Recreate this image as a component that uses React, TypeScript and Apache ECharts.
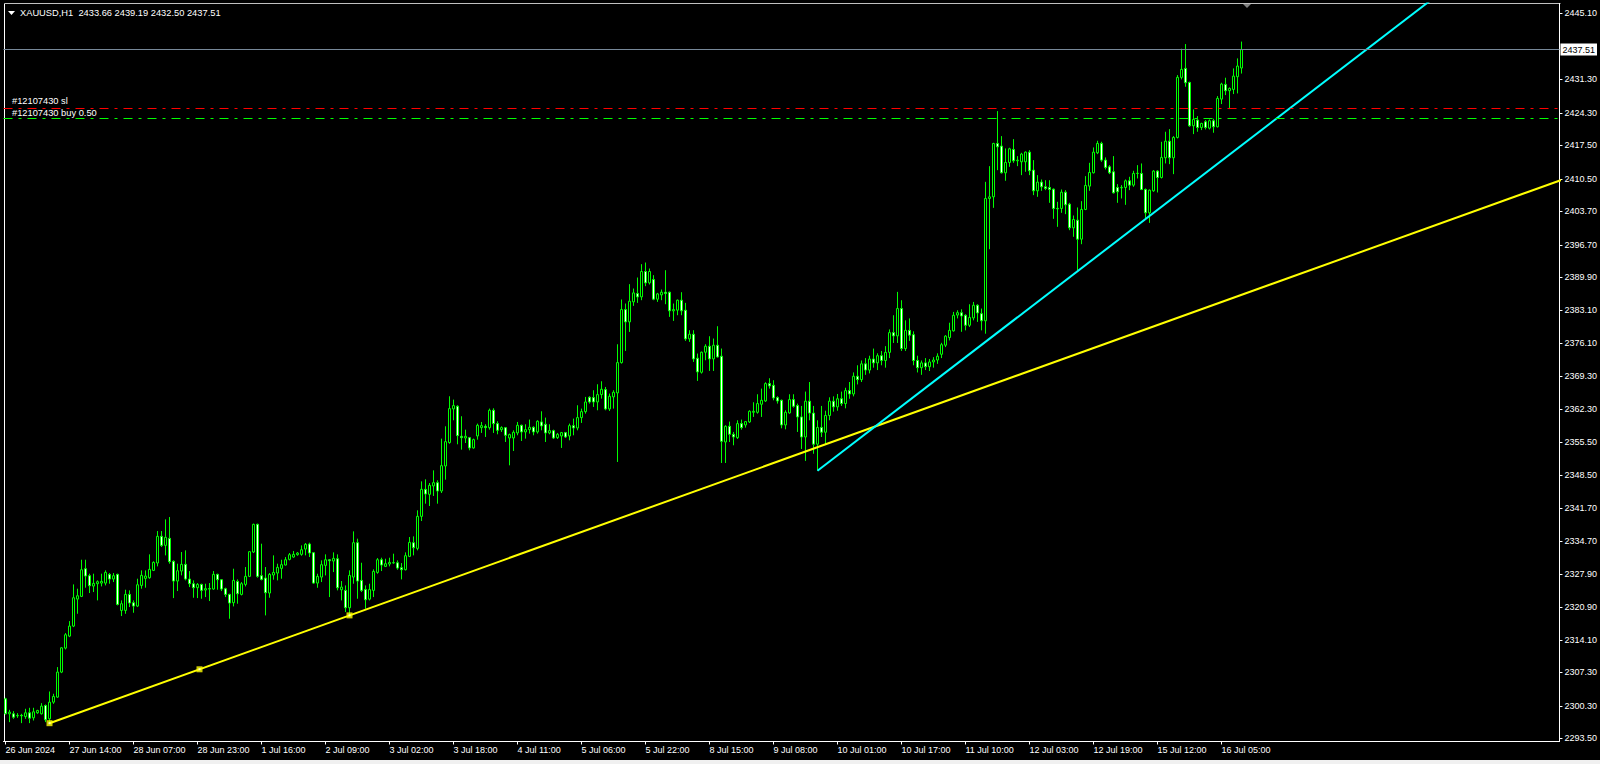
import { useEffect, useRef } from "react";
import * as echarts from "echarts";

const FONT = "'Liberation Sans', Arial, sans-serif";

const symbolName = "XAUUSD,H1";
const lastOHLC = [2433.66, 2439.19, 2432.5, 2437.51];
const slLabel = "#12107430 sl";
const buyLabel = "#12107430 buy 0.50";

const xTickLabels = [
  "26 Jun 2024", "27 Jun 14:00", "28 Jun 07:00", "28 Jun 23:00", "1 Jul 16:00",
  "2 Jul 09:00", "3 Jul 02:00", "3 Jul 18:00", "4 Jul 11:00", "5 Jul 06:00",
  "5 Jul 22:00", "8 Jul 15:00", "9 Jul 08:00", "10 Jul 01:00", "10 Jul 17:00",
  "11 Jul 10:00", "12 Jul 03:00", "12 Jul 19:00", "15 Jul 12:00", "16 Jul 05:00",
];
const barsPerTick = 16;
const slotCount = 389;

const yTickValues = [
  2293.5, 2300.3, 2307.3, 2314.1, 2320.9, 2327.9, 2334.7, 2341.7, 2348.5, 2355.5,
  2362.3, 2369.3, 2376.1, 2383.1, 2389.9, 2396.7, 2403.7, 2410.5, 2417.5, 2424.3,
  2431.3, 2445.1,
];
const yMin = 2292.83;
const yMax = 2447.15;

const bidPrice = 2437.51;
const slPrice = 2425.23;
const entryPrice = 2423.14;

// trend line anchors: [bar index, price]
const yellowAnchors = [[11, 2296.66], [86, 2319.2]];
const cyanAnchors = [[203, 2349.45], [336, 2434.8]];

// bars: [open, high, low, close]
const barsA = [
  [2301.76, 2301.97, 2298.48, 2298.62], [2298.62, 2299.46, 2296.88, 2298.97], [2298.62, 2299.18, 2297.57, 2297.92],
  [2298.2, 2298.76, 2297.78, 2298.3], [2298.3, 2298.62, 2296.67, 2298.2], [2298.06, 2299.67, 2297.57, 2298.83],
  [2298.83, 2299.88, 2296.67, 2297.71], [2297.78, 2299.88, 2297.22, 2299.04], [2298.83, 2299.46, 2298.62, 2299.32],
  [2298.62, 2300.85, 2298.48, 2300.23], [2300.36, 2300.57, 2296.88, 2297.36], [2297.57, 2303.29, 2296.67, 2301.06],
  [2301.06, 2302.81, 2300.71, 2302.25], [2302.11, 2308.39, 2301.97, 2307.34], [2307.34, 2312.57, 2307.13, 2312.43],
  [2312.36, 2315.5, 2312.08, 2315.15], [2314.87, 2318.01, 2314.66, 2316.96], [2316.96, 2325.68, 2316.75, 2322.89],
  [2322.61, 2324.78, 2319.54, 2323.31], [2323.17, 2330.84, 2323.03, 2328.75], [2328.96, 2330.84, 2324.99, 2327.43],
  [2327.5, 2327.92, 2323.87, 2325.4], [2325.33, 2327.92, 2324.08, 2325.89], [2325.82, 2326.52, 2322.34, 2326.24],
  [2325.96, 2327.92, 2325.26, 2326.31], [2325.96, 2328.61, 2325.47, 2328.19], [2327.78, 2328.05, 2325.82, 2326.8],
  [2326.8, 2328.05, 2326.17, 2327.5], [2327.78, 2327.92, 2321.29, 2321.5], [2320.24, 2322.34, 2319.06, 2321.64],
  [2320.24, 2324.57, 2319.54, 2323.59], [2323.59, 2324.43, 2320.94, 2321.78], [2321.85, 2322.34, 2319.75, 2321.15],
  [2321.15, 2326.87, 2320.94, 2325.61], [2325.47, 2328.61, 2324.78, 2327.57], [2326.94, 2328.61, 2324.99, 2327.43],
  [2327.08, 2331.96, 2326.87, 2328.82], [2328.61, 2330.5, 2328.47, 2330.29], [2330.15, 2336.84, 2329.45, 2335.73],
  [2335.73, 2336.84, 2333.5, 2333.84], [2333.84, 2339.28, 2331.75, 2335.52], [2335.31, 2339.77, 2330.01, 2330.43],
  [2330.5, 2330.71, 2322.82, 2326.38], [2326.38, 2330.01, 2324.29, 2328.54], [2328.47, 2332.45, 2327.57, 2329.87],
  [2329.87, 2332.8, 2326.52, 2326.8], [2326.8, 2328.47, 2325.12, 2325.82], [2325.82, 2326.52, 2322.89, 2324.99],
  [2324.99, 2325.96, 2322.82, 2325.68], [2325.68, 2325.82, 2322.68, 2324.43], [2324.5, 2325.82, 2323.03, 2324.8],
  [2324.8, 2325.96, 2322.2, 2324.7], [2324.71, 2328.47, 2324.57, 2327.78], [2327.78, 2327.92, 2324.57, 2326.66],
  [2326.66, 2326.8, 2324.29, 2324.71], [2324.78, 2324.99, 2323.03, 2323.59], [2323.59, 2323.73, 2318.5, 2321.78],
  [2321.85, 2328.96, 2321.08, 2326.52], [2326.31, 2326.73, 2321.64, 2323.73], [2323.59, 2326.17, 2323.38, 2325.82],
  [2325.68, 2329.31, 2325.26, 2327.36], [2327.36, 2332.66, 2327.22, 2332.52], [2332.45, 2338.38, 2332.24, 2338.24],
  [2338.24, 2338.38, 2327.08, 2327.36], [2327.5, 2334.19, 2326.52, 2326.73], [2327.01, 2329.31, 2319.2, 2323.94],
  [2323.87, 2328.05, 2322.89, 2327.78], [2327.64, 2331.75, 2326.66, 2328.19], [2328.05, 2330.01, 2326.52, 2329.24],
  [2329.03, 2330.84, 2326.87, 2329.8], [2329.73, 2331.4, 2329.66, 2330.84], [2330.91, 2332.24, 2330.7, 2331.89],
  [2331.4, 2332.66, 2331.26, 2331.96],
];

const barsB = [
  [2331.89, 2332.45, 2331.68, 2332.24], [2331.96, 2333.84, 2331.68, 2332.93], [2333.07, 2334.33, 2331.75, 2334.05],
  [2334.12, 2334.4, 2331.4, 2332.24], [2332.31, 2332.45, 2325.82, 2325.96], [2325.96, 2327.91, 2324.98, 2327.35],
  [2327.21, 2330.7, 2326.17, 2329.8], [2329.66, 2331.96, 2327.56, 2330.84], [2330.84, 2330.98, 2323.03, 2330.63],
  [2330.56, 2332.38, 2328.26, 2331.12], [2331.05, 2331.96, 2324.43, 2324.98], [2324.56, 2326.38, 2322.33, 2325.12],
  [2324.43, 2325.47, 2319.89, 2320.8], [2320.8, 2328.61, 2319.32, 2327.56], [2327.21, 2336.77, 2325.82, 2334.4],
  [2334.4, 2335.24, 2322.68, 2326.38], [2326.52, 2330.21, 2324.08, 2324.43], [2324.63, 2325.47, 2320.59, 2322.47],
  [2322.6, 2325.82, 2322.33, 2324.6], [2324.43, 2328.82, 2323.03, 2328.4], [2328.19, 2331.19, 2327.91, 2330.84],
  [2330.84, 2331.26, 2328.47, 2329.73], [2329.45, 2331.05, 2329.31, 2330.01], [2329.94, 2331.26, 2329.45, 2330.28],
  [2330.18, 2332.1, 2330.0, 2330.24], [2330.21, 2330.7, 2328.75, 2329.1], [2329.17, 2330.14, 2326.73, 2328.75],
  [2328.75, 2332.38, 2328.61, 2331.68], [2331.54, 2335.59, 2331.4, 2334.47], [2334.4, 2335.72, 2331.75, 2333.35],
  [2333.21, 2341.17, 2332.8, 2339.91], [2339.91, 2347.23, 2338.93, 2345.56], [2345.56, 2347.65, 2342.56, 2344.58],
  [2344.51, 2346.88, 2342.07, 2346.4], [2346.26, 2349.53, 2344.17, 2346.95], [2346.95, 2347.44, 2342.56, 2345.21],
  [2345.21, 2356.16, 2344.79, 2350.51], [2350.44, 2358.74, 2347.58, 2355.53], [2355.32, 2365.02, 2355.11, 2362.44],
  [2362.37, 2364.32, 2360.0, 2363.07], [2362.93, 2363.14, 2354.98, 2356.79], [2356.65, 2360.84, 2353.86, 2356.37],
  [2356.3, 2358.04, 2355.25, 2356.65], [2356.37, 2356.51, 2353.72, 2354.21], [2354.21, 2356.16, 2354.07, 2355.95],
  [2356.72, 2359.3, 2355.95, 2358.95], [2358.46, 2359.65, 2357.35, 2358.88], [2358.74, 2359.16, 2356.51, 2358.46],
  [2358.46, 2362.44, 2358.04, 2362.09], [2362.09, 2362.51, 2357.35, 2359.3], [2359.3, 2359.79, 2357.07, 2357.9],
  [2358.04, 2358.74, 2357.56, 2358.46], [2358.46, 2358.6, 2355.46, 2356.86], [2356.3, 2357.21, 2350.58, 2357.0],
  [2356.3, 2357.9, 2353.58, 2357.49], [2357.35, 2359.65, 2356.86, 2358.95], [2358.95, 2359.09, 2355.67, 2357.56],
  [2357.56, 2359.16, 2356.16, 2358.04], [2358.04, 2360.14, 2357.21, 2358.53], [2358.53, 2358.74, 2356.86, 2357.56],
  [2357.56, 2360.0, 2357.21, 2359.79], [2359.65, 2361.88, 2357.9, 2358.81],
];

const barsC = [
  [2359.16, 2360.56, 2355.46, 2357.35], [2357.35, 2359.16, 2357.07, 2357.83], [2357.83, 2358.04, 2356.09, 2356.3],
  [2356.37, 2357.35, 2356.09, 2357.07], [2356.72, 2357.56, 2354.21, 2357.42], [2357.42, 2357.56, 2356.3, 2356.51],
  [2356.72, 2359.3, 2355.81, 2358.88], [2358.88, 2360.35, 2356.86, 2358.39], [2358.39, 2363.14, 2357.9, 2360.56],
  [2360.56, 2362.44, 2359.44, 2361.81], [2361.81, 2364.88, 2361.39, 2363.83], [2364.81, 2365.02, 2363.49, 2363.83],
  [2364.74, 2366.28, 2362.79, 2363.83], [2363.83, 2367.53, 2362.09, 2365.37], [2365.37, 2368.16, 2364.53, 2366.48],
  [2366.41, 2366.97, 2362.09, 2362.37], [2362.37, 2365.58, 2361.95, 2365.02], [2364.88, 2366.28, 2362.44, 2365.86],
  [2365.72, 2375.9, 2351.28, 2372.06], [2372.06, 2385.25, 2371.85, 2383.15], [2383.15, 2384.41, 2374.5, 2380.57],
  [2380.57, 2388.46, 2378.48, 2384.9], [2384.76, 2387.55, 2383.92, 2386.64], [2386.5, 2389.85, 2384.55, 2385.8],
  [2385.8, 2392.64, 2385.11, 2391.11], [2391.11, 2392.99, 2388.04, 2388.73], [2388.73, 2391.73, 2388.39, 2391.11],
  [2389.43, 2390.34, 2385.11, 2385.32], [2385.32, 2386.64, 2384.76, 2386.43], [2386.22, 2387.34, 2385.11, 2386.78],
  [2386.78, 2391.38, 2384.27, 2386.5], [2386.78, 2386.92, 2381.62, 2382.88], [2382.88, 2384.41, 2380.78, 2383.15],
  [2383.02, 2385.25, 2381.97, 2385.11], [2385.11, 2386.78, 2381.97, 2382.88], [2383.02, 2384.55, 2376.6, 2377.02],
  [2377.02, 2378.83, 2376.39, 2377.99], [2377.99, 2378.83, 2372.2, 2372.83], [2372.97, 2373.95, 2368.23, 2370.11],
  [2370.04, 2374.37, 2369.76, 2374.23], [2374.23, 2375.9, 2372.55, 2375.48], [2375.48, 2377.57, 2370.32, 2372.83],
  [2372.83, 2377.09, 2370.32, 2375.69], [2375.69, 2379.67, 2373.11, 2373.25], [2373.39, 2375.0, 2351.07, 2355.6],
  [2355.46, 2358.95, 2351.07, 2358.74], [2358.74, 2359.72, 2355.46, 2357.07], [2357.07, 2357.56, 2354.77, 2356.51],
  [2356.37, 2360.0, 2356.09, 2359.3], [2359.3, 2360.14, 2358.04, 2358.46], [2359.02, 2359.86, 2358.46, 2359.72],
  [2359.65, 2362.09, 2359.44, 2361.88], [2361.67, 2363.77, 2360.7, 2361.88], [2361.67, 2365.44, 2361.39, 2363.49],
  [2363.35, 2366.62, 2360.7, 2364.18], [2364.04, 2367.95, 2363.83, 2367.67], [2367.67, 2368.79, 2366.62, 2367.18],
  [2367.32, 2368.37, 2364.18, 2364.67], [2364.74, 2365.02, 2363.49, 2364.04], [2364.18, 2364.32, 2358.32, 2359.02],
  [2359.02, 2362.09, 2358.11, 2361.67], [2361.53, 2365.44, 2361.39, 2364.32], [2364.32, 2365.44, 2362.65, 2362.93],
  [2363.07, 2363.49, 2357.56, 2360.7],
];

const barsD = [
  [2360.7, 2363.0, 2354.0, 2356.5], [2356.5, 2366.0, 2351.5, 2364.0], [2364.0, 2368.0, 2360.0, 2361.5],
  [2361.5, 2363.0, 2353.0, 2355.0], [2355.0, 2360.0, 2349.45, 2358.5], [2358.5, 2363.0, 2356.5, 2357.5],
  [2357.5, 2362.0, 2355.0, 2361.0], [2361.0, 2364.8, 2360.0, 2364.0], [2364.0, 2365.0, 2361.8, 2362.8],
  [2362.8, 2365.5, 2362.0, 2364.5], [2364.5, 2366.0, 2363.0, 2363.5], [2363.5, 2366.8, 2362.5, 2366.2],
  [2366.2, 2368.0, 2364.5, 2365.5], [2365.5, 2370.0, 2365.0, 2369.2], [2369.2, 2371.5, 2367.5, 2368.5],
  [2368.5, 2372.5, 2368.0, 2371.8], [2371.8, 2373.0, 2369.5, 2370.5], [2370.5, 2373.5, 2369.8, 2372.8],
  [2372.8, 2374.99, 2371.0, 2372.0], [2372.0, 2374.0, 2370.5, 2373.5], [2373.5, 2374.5, 2371.5, 2372.5],
  [2372.5, 2375.5, 2371.0, 2374.2], [2374.2, 2379.0, 2373.0, 2378.33], [2378.33, 2381.96, 2376.17, 2377.64],
  [2377.64, 2386.85, 2376.17, 2383.36], [2383.36, 2385.1, 2374.5, 2374.99], [2374.99, 2380.9, 2374.5, 2378.8],
  [2378.8, 2381.3, 2376.6, 2377.8], [2377.9, 2378.6, 2371.5, 2372.5], [2372.5, 2373.5, 2370.0, 2371.0],
  [2371.0, 2372.5, 2369.5, 2372.0], [2372.0, 2373.0, 2370.5, 2371.2], [2371.2, 2372.8, 2370.3, 2372.2],
  [2372.2, 2373.2, 2371.0, 2372.6], [2372.6, 2374.0, 2371.8, 2373.4], [2373.8, 2376.2, 2373.0, 2375.8],
  [2375.7, 2377.8, 2375.3, 2377.6], [2377.3, 2380.4, 2376.7, 2378.8], [2378.7, 2382.66, 2378.55, 2381.96],
  [2382.0, 2383.0, 2381.3, 2382.5], [2382.5, 2383.2, 2378.5, 2381.8], [2381.96, 2382.17, 2378.8, 2379.87],
  [2379.87, 2384.26, 2379.5, 2381.5], [2381.4, 2384.75, 2380.9, 2384.05], [2384.05, 2384.26, 2380.57, 2382.45],
  [2382.3, 2383.36, 2378.8, 2380.8], [2380.8, 2409.86, 2378.1, 2406.37], [2406.37, 2413.14, 2395.77, 2406.72],
  [2406.72, 2418.02, 2404.42, 2417.88],
];

const barsE = [
  [2417.88, 2424.65, 2412.3, 2417.18], [2417.33, 2419.42, 2411.6, 2411.75], [2411.75, 2416.84, 2410.08, 2413.91],
  [2413.91, 2416.98, 2413.0, 2416.77], [2416.63, 2418.79, 2413.84, 2414.26], [2414.26, 2415.24, 2413.14, 2414.4],
  [2414.05, 2415.93, 2411.26, 2415.66], [2414.05, 2416.21, 2411.96, 2416.07], [2416.07, 2416.49, 2411.26, 2412.17],
  [2412.31, 2414.4, 2407.08, 2407.98], [2407.98, 2411.26, 2406.73, 2409.8], [2409.8, 2410.35, 2407.98, 2408.82],
  [2408.82, 2410.2, 2408.12, 2408.47], [2408.68, 2410.2, 2405.47, 2408.26], [2408.33, 2408.47, 2402.12, 2404.29],
  [2404.3, 2405.68, 2400.45, 2404.2], [2404.29, 2408.26, 2403.38, 2407.7], [2407.7, 2408.12, 2403.1, 2405.05],
  [2405.19, 2405.47, 2399.75, 2400.24], [2400.24, 2402.82, 2398.36, 2401.98], [2401.84, 2404.5, 2391.38, 2397.87],
  [2397.87, 2405.82, 2396.82, 2404.08], [2404.08, 2411.05, 2403.94, 2409.1], [2408.96, 2413.84, 2407.98, 2411.82],
  [2411.75, 2417.05, 2411.61, 2416.07], [2415.93, 2418.45, 2415.66, 2417.89], [2417.89, 2418.24, 2414.05, 2414.4],
  [2414.4, 2414.96, 2412.45, 2412.87], [2413.0, 2413.35, 2411.47, 2411.75], [2411.96, 2415.24, 2407.42, 2407.56],
  [2408.68, 2409.38, 2405.47, 2407.77], [2408.6, 2409.17, 2406.38, 2408.7], [2408.68, 2410.35, 2405.05, 2410.07],
  [2410.07, 2410.91, 2408.12, 2409.17], [2409.17, 2412.17, 2408.82, 2411.61], [2411.6, 2413.35, 2410.56, 2411.65],
  [2411.61, 2413.7, 2408.12, 2408.26], [2408.26, 2408.47, 2402.19, 2403.38], [2403.38, 2408.26, 2401.28, 2408.12],
  [2407.98, 2412.3, 2407.77, 2412.1], [2412.1, 2412.3, 2407.63, 2410.77], [2410.77, 2418.23, 2410.56, 2414.96],
  [2414.89, 2420.33, 2413.7, 2418.37], [2418.37, 2420.88, 2413.56, 2414.89], [2414.89, 2419.42, 2411.47, 2419.14],
  [2419.14, 2432.18, 2418.93, 2431.7], [2431.7, 2437.69, 2431.28, 2433.37], [2433.58, 2438.67, 2429.74, 2430.58],
  [2430.65, 2430.79, 2421.37, 2421.58], [2421.58, 2425.0, 2419.84, 2422.91], [2422.77, 2423.6, 2420.33, 2421.23],
  [2421.23, 2422.21, 2420.68, 2422.07], [2422.42, 2422.77, 2420.81, 2421.23], [2421.09, 2422.91, 2420.81, 2422.63],
  [2422.63, 2423.05, 2420.12, 2421.37], [2421.37, 2427.79, 2421.23, 2427.3], [2427.16, 2430.58, 2426.12, 2430.3],
  [2430.23, 2431.63, 2428.0, 2428.91], [2428.91, 2429.6, 2425.07, 2429.39], [2429.18, 2433.58, 2428.21, 2431.97],
  [2431.84, 2435.67, 2428.35, 2434.07], [2433.66, 2439.19, 2432.5, 2437.51],
];

const allBars = [...barsA, ...barsB, ...barsC, ...barsD, ...barsE];

const isTick = (i: number) => i % barsPerTick === 0 && i / barsPerTick < xTickLabels.length;
const categories = Array.from({ length: slotCount }, (_, i) =>
  isTick(i) ? xTickLabels[i / barsPerTick] : String(i)
);

function rayPoint(a: number[][], x: number) {
  const [p, q] = a;
  return [x, p[1] + ((q[1] - p[1]) * (x - p[0])) / (q[0] - p[0])];
}

export default function App() {
  const ref = useRef<HTMLDivElement>(null);
  useEffect(() => {
    if (!ref.current) return;
    const chart = echarts.init(ref.current, undefined, { renderer: "svg" });
    const candleData = allBars.map(([o, h, l, c]) => [o, c, l, h]);
    const yellowMid = rayPoint(yellowAnchors, (yellowAnchors[0][0] + yellowAnchors[1][0]) / 2);
    const yellowSquares = [yellowAnchors[0], yellowMid, yellowAnchors[1]];
    const txt = (extra: any) => ({ fill: "#fff", font: `9.3px ${FONT}`, verticalAlign: "middle", ...extra });

    chart.setOption({
      animation: false,
      backgroundColor: "#000",
      grid: { left: 3.5, right: 39.5, top: 3.5, bottom: 22.5, containLabel: false },
      xAxis: [
        {
          type: "category",
          data: categories,
          boundaryGap: true,
          axisLine: { show: true, lineStyle: { color: "#fff", width: 1 } },
          axisTick: {
            show: true,
            alignWithLabel: true,
            length: 3,
            interval: (i: number) => isTick(i),
            lineStyle: { color: "#fff" },
          },
          axisLabel: {
            show: true,
            interval: (i: number) => isTick(i),
            formatter: (v: string) => (xTickLabels.includes(v) ? v : ""),
            color: "#fff",
            fontSize: 9,
            fontFamily: FONT,
            align: "left",
            margin: 4,
          },
          splitLine: { show: false },
        },
        { type: "value", min: -0.5, max: slotCount - 0.5, show: false },
      ],
      yAxis: {
        type: "value",
        position: "right",
        min: yMin,
        max: yMax,
        axisLine: { show: true, onZero: false, lineStyle: { color: "#fff" } },
        axisTick: { show: true, length: 3, customValues: yTickValues, lineStyle: { color: "#fff" } },
        axisLabel: {
          show: true,
          customValues: yTickValues,
          formatter: (v: number) => v.toFixed(2),
          color: "#fff",
          fontSize: 9,
          fontFamily: FONT,
          margin: 5,
          align: "left",
        },
        splitLine: { show: false },
      },
      series: [
        {
          type: "candlestick",
          xAxisIndex: 0,
          yAxisIndex: 0,
          data: candleData,
          barWidth: 2,
          itemStyle: {
            color: "#000",
            color0: "#fff",
            borderColor: "#00ff00",
            borderColor0: "#00ff00",
            borderColorDoji: "#00ff00",
            borderWidth: 1,
          },
          z: 2,
          markLine: {
            silent: true,
            symbol: ["none", "none"],
            animation: false,
            data: [
              {
                yAxis: bidPrice,
                lineStyle: { color: "#778899", width: 1, type: "solid" },
                label: {
                  show: true,
                  position: "end",
                  formatter: bidPrice.toFixed(2),
                  color: "#000",
                  backgroundColor: "#fff",
                  padding: [2, 2, 1, 2],
                  fontSize: 9,
                  fontFamily: FONT,
                  distance: 1,
                },
              },
              {
                yAxis: slPrice,
                lineStyle: { color: "#ff0000", width: 1, type: [9, 6, 3, 6] },
                label: { show: false },
              },
              {
                yAxis: entryPrice,
                lineStyle: { color: "#00ff00", width: 1, type: [9, 6, 3, 6] },
                label: { show: false },
              },
            ],
          },
        },
        {
          type: "line",
          xAxisIndex: 1,
          data: [yellowAnchors[0], rayPoint(yellowAnchors, slotCount + 5)],
          symbol: "none",
          lineStyle: { color: "#ffff00", width: 2 },
          clip: true,
          silent: true,
          z: 3,
        },
        {
          type: "line",
          xAxisIndex: 1,
          data: [cyanAnchors[0], rayPoint(cyanAnchors, slotCount + 5)],
          symbol: "none",
          lineStyle: { color: "#00ffff", width: 2 },
          clip: true,
          silent: true,
          z: 3,
        },
        {
          type: "scatter",
          xAxisIndex: 1,
          data: yellowSquares,
          symbol: "rect",
          symbolSize: 6,
          itemStyle: { color: "#ffff00" },
          silent: true,
          z: 4,
        },
        {
          type: "scatter",
          xAxisIndex: 1,
          data: yellowSquares,
          symbol: "rect",
          symbolSize: 2,
          itemStyle: { color: "#ffffff" },
          silent: true,
          z: 5,
        },
      ],
      graphic: [
        { type: "rect", shape: { x: 0, y: 760, width: 1600, height: 4 }, style: { fill: "#f0f0f0" }, silent: true },
        { type: "line", shape: { x1: 4.5, y1: 3.5, x2: 4.5, y2: 741.5 }, style: { stroke: "#fff", lineWidth: 1 }, silent: true },
        { type: "line", shape: { x1: 4.5, y1: 3.5, x2: 1560.5, y2: 3.5 }, style: { stroke: "#c0c0c0", lineWidth: 1 }, silent: true },
        { type: "polygon", shape: { points: [[8, 11], [15, 11], [11.5, 15]] }, style: { fill: "#fff" }, silent: true },
        {
          type: "text",
          x: 20,
          y: 13,
          style: txt({ text: `${symbolName}  ${lastOHLC.map((v) => v.toFixed(2)).join(" ")}` }),
          silent: true,
        },
        { type: "text", x: 12, y: 101, style: txt({ text: slLabel }), silent: true },
        { type: "text", x: 12, y: 112.5, style: txt({ text: buyLabel }), silent: true },
        { type: "polygon", shape: { points: [[1243, 4], [1251, 4], [1247, 8]] }, style: { fill: "#808080" }, silent: true },
      ],
    });
    return () => chart.dispose();
  }, []);
  return (
    <div
      ref={ref}
      style={{ position: "fixed", left: 0, top: 0, width: 1600, height: 764, background: "#000" }}
    />
  );
}
